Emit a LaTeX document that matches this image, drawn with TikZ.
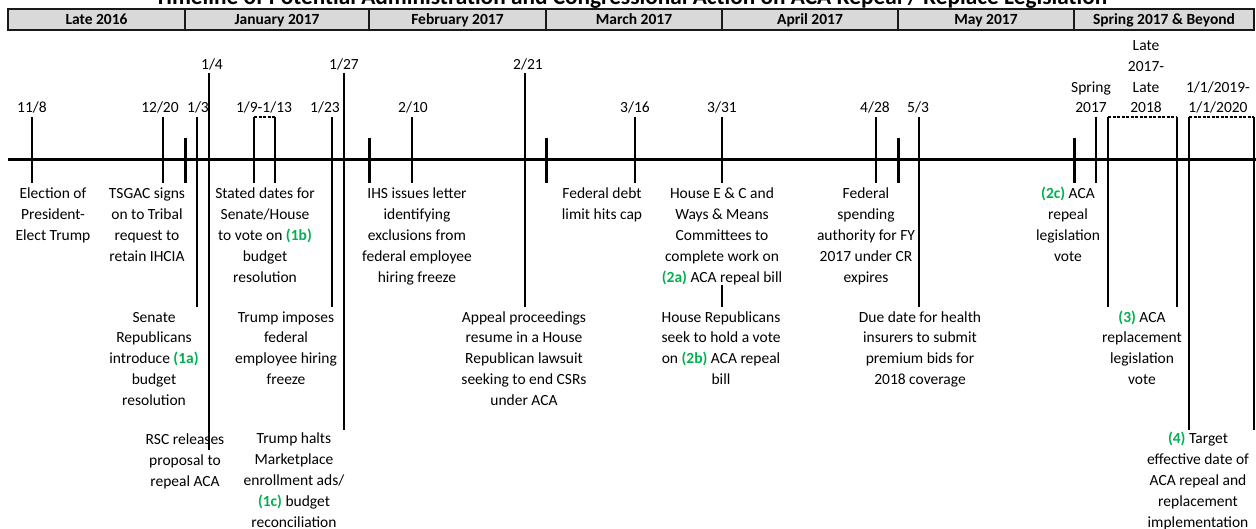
\documentclass[tikz,border=0pt]{standalone}
\usepackage{fontspec}
\setmainfont{Carlito}
\definecolor{stepgreen}{HTML}{00B050}
\definecolor{headgray}{HTML}{D9D9D9}
\newcommand{\stg}[1]{\textbf{\textcolor{stepgreen}{(#1)}}}
\newcommand{\lblfont}{\fontsize{15.5}{20.8}\selectfont}

\begin{document}
\begin{tikzpicture}[x=1pt,y=-1pt,
    lbl/.style={align=center,inner sep=0pt,anchor=base,font=\lblfont},
    month/.style={draw=black!90,line width=2pt,fill=headgray},
    evt/.style={line width=2pt},
    bound/.style={line width=3pt},
    span/.style={line width=2.5pt,dash pattern=on 3pt off 1.5pt}]
        \useasboundingbox (0,0) rectangle (1256,529);
        \clip (0,0) rectangle (1256,529);
        \node[anchor=base,inner sep=0pt,font=\bfseries\fontsize{23.3}{25}\selectfont] (title) at (631,5)
            {Timeline of Potential Administration and Congressional Action on ACA Repeal / Replace Legislation};

        % month bar
        \foreach \a/\b/\t [count=\i] in {8/185/Late 2016, 185/369/January 2017, 369/546/February 2017,
                546/722/March 2017, 722/898/April 2017, 898/1074/May 2017, 1074/1254/Spring 2017 \& Beyond}{
            \draw[month] (\a,9) rectangle (\b,30);
            \node[anchor=base,inner sep=0pt,font=\bfseries\fontsize{15.5}{18}\selectfont] (m\i) at ({(\a+\b)/2},25) {\t};
        }

        % axis and ticks
        \draw[bound] (8,160) -- (1256,160);
        \foreach \x in {185,369,546,898,1074}
            \draw[bound] (\x,138) -- (\x,183);
        \foreach \x/\t/\b in {32/117/183, 163/117/183, 197/117/307, 209/73/450, 254/117/183, 275/117/183,
                332/117/307, 344/73/430, 412/117/183, 525/73/307, 722/117/183, 876/117/183, 919/117/307,
                1096/117/183, 1108/117/307, 1177/117/307, 1189/117/430, 1254/117/430}
            \draw[evt] (\x,\t) -- (\x,\b);
        \draw[line width=1.2pt] (635,117) -- (635,183);
        \draw[evt] (722,285) -- (722,307);
        \draw[span] (254,117) -- (275,117);
        \draw[span] (1108,117) -- (1177,117);
        \draw[span] (1189,117) -- (1254,117);

        % dates (y = baseline of last line)
        \node[lbl] (d1) at (32,113) {11/8};
        \node[lbl] (d2) at (160,113) {12/20};
        \node[lbl] (d3) at (198,113) {1/3};
        \node[lbl] (d4) at (212,70) {1/4};
        \node[lbl] (d5) at (264,113) {1/9-1/13};
        \node[lbl] (d6) at (325,113) {1/23};
        \node[lbl] (d7) at (344,70) {1/27};
        \node[lbl] (d8) at (413,113) {2/10};
        \node[lbl] (d9) at (528,70) {2/21};
        \node[lbl] (d10) at (635,113) {3/16};
        \node[lbl] (d11) at (722,113) {3/31};
        \node[lbl] (d12) at (875,113) {4/28};
        \node[lbl] (d13) at (918,113) {5/3};
        \node[lbl] (d14) at (1091,113) {Spring\\2017};
        \node[lbl] (d15) at (1146,113) {Late\\2017-\\Late\\2018};
        \node[lbl] (d16) at (1218,113) {1/1/2019-\\1/1/2020};

        % events
        \node[lbl] (e1) at (53,240.6) {Election of\\President-\\Elect Trump};
        \node[lbl] (e2) at (147,261.4) {TSGAC signs\\on to Tribal\\request to\\retain IHCIA};
        \node[lbl] (e3) at (265,282.2) {Stated dates for\\Senate/House\\to vote on \stg{1b}\\budget\\resolution};
        \node[lbl] (e4) at (417,282.2) {IHS issues letter\\identifying\\exclusions from\\federal employee\\hiring freeze};
        \node[lbl] (e5) at (602,219.8) {Federal debt\\limit hits cap};
        \node[lbl] (e6) at (722,282.2) {House E \& C and\\Ways \& Means\\Committees to\\complete work on\\\stg{2a} ACA repeal bill};
        \node[lbl] (e7) at (866,282.2) {Federal\\spending\\authority for FY\\2017 under CR\\expires};
        \node[lbl] (e8) at (1068,261.4) {\stg{2c} ACA\\repeal\\legislation\\vote};

        \node[lbl] (e9) at (154,405.2) {Senate\\Republicans\\introduce \stg{1a}\\budget\\resolution};
        \node[lbl] (e10) at (286,384.4) {Trump imposes\\federal\\employee hiring\\freeze};
        \node[lbl] (e11) at (524,405.2) {Appeal proceedings\\resume in a House\\Republican lawsuit\\seeking to end CSRs\\under ACA};
        \node[lbl] (e12) at (721,384.4) {House Republicans\\seek to hold a vote\\on \stg{2b} ACA repeal\\bill};
        \node[lbl] (e13) at (920,384.4) {Due date for health\\insurers to submit\\premium bids for\\2018 coverage};
        \node[lbl] (e14) at (1142,384.4) {\stg{3} ACA\\replacement\\legislation\\vote};

        \node[lbl] (e15) at (185,486) {RSC releases\\proposal to\\repeal ACA};
        \node[lbl] (e16) at (294,527) {Trump halts\\Marketplace\\enrollment ads/\\\stg{1c} budget\\reconciliation};
        \node[lbl] (e17) at (1198,527) {\stg{4} Target\\effective date of\\ACA repeal and\\replacement\\implementation};
    \end{tikzpicture}
\end{document}
